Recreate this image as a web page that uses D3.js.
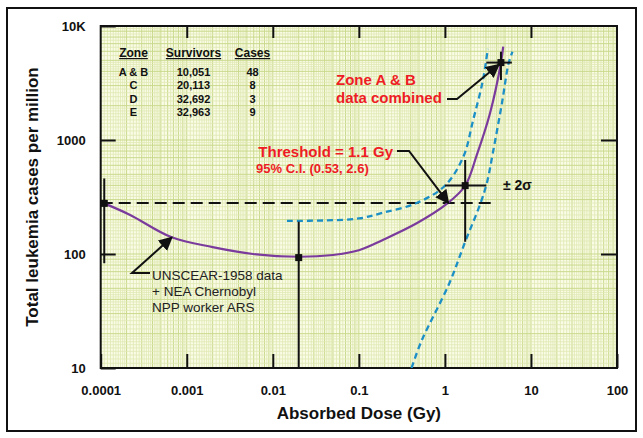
<!DOCTYPE html>
<html><head><meta charset="utf-8">
<script src="https://cdn.jsdelivr.net/npm/d3@7"></script>
<style>body{margin:0;background:#fff}svg{display:block;font-family:"Liberation Sans",Arial,sans-serif}</style>
</head><body><svg id="c" width="643" height="438"></svg>
<script>
// ---- data ----
const xTickValues = [0.0001, 0.001, 0.01, 0.1, 1, 10, 100];
const xTickLabels = ["0.0001", "0.001", "0.01", "0.1", "1", "10", "100"];
const yTickValues = [10, 100, 1000, 10000];
const yTickLabels = ["10", "100", "1000", "10K"];

const zones = ["A & B", "C", "D", "E"];
const survivors = ["10,051", "20,113", "32,692", "32,963"];
const cases = ["48", "8", "3", "9"];

// measured points: dose (Gy), leukemia cases per million
const pointDose = [4.48, 1.72, 0.02, 0.00011];
const pointRate = [4776, 398, 93, 278];
const errYLow = [3360, 128, 10, 83];
const errYHigh = [5950, 668, 192, 460];
const errXLow = [3.03, 1.0, null, null];
const errXHigh = [6.0, 3.03, null, null];

// fitted curve
const fitDose = [0.00011, 0.00022, 0.00067, 0.002, 0.0059, 0.02, 0.05, 0.1, 0.19, 0.47, 1.05, 1.72, 2.35, 3.35, 4.48, 4.76];
const fitRate = [278, 220, 140, 115, 100, 94.6, 98, 108, 133, 186, 275, 397, 740, 1727, 4764, 6600];

// +/- 2 sigma bands
const upperDose = [0.0146, 0.04, 0.1, 0.19, 0.47, 1.0, 1.64, 2.13, 2.77, 3.15];
const upperRate = [195, 197, 205, 230, 280, 397, 714, 1496, 3360, 6300];
const lowerDose = [0.41, 0.53, 1.13, 1.72, 2.6, 3.1, 3.6, 4.6, 5.5, 6.1];
const lowerRate = [10, 17, 55.7, 128, 280, 431, 764, 2100, 4710, 5950];

// threshold reference line
const thresholdRate = 280;
const thresholdDoseRange = [0.0001, 4.0];

// ---- drawing ----
const svg = d3.select("#c");
const L = 100.7, R = 617, T = 26, B = 368;
const x = d3.scaleLog().domain([1e-4, 100]).range([L, R]);
const y = d3.scaleLog().domain([10, 1e4]).range([B, T]);

svg.append("rect").attr("x", 7).attr("y", 8).attr("width", 629).attr("height", 423)
  .attr("fill", "#fff").attr("stroke", "#111").attr("stroke-width", 2);

svg.append("rect").attr("x", L).attr("y", T).attr("width", R - L).attr("height", B - T).attr("fill", "#fafce6");

svg.append("defs").append("clipPath").attr("id", "clip")
  .append("rect").attr("x", L).attr("y", T).attr("width", R - L).attr("height", B - T);

function mantissas() {
  const m = [];
  for (let i = 10; i < 20; i++) m.push(i / 10);
  for (let i = 20; i < 50; i += 2) m.push(i / 10);
  for (let i = 50; i < 100; i += 5) m.push(i / 10);
  return m;
}
const ms = mantissas();
const grid = svg.append("g");
for (let e = -4; e < 2; e++) {
  ms.forEach(m => {
    const v = m * Math.pow(10, e);
    const major = Math.abs(m - Math.round(m)) < 1e-9;
    grid.append("line").attr("x1", x(v)).attr("x2", x(v)).attr("y1", T).attr("y2", B)
      .attr("stroke", major ? "#c9d98c" : "#dfe8b4").attr("stroke-width", major ? 1 : 0.8);
  });
}
for (let e = 1; e < 4; e++) {
  ms.forEach(m => {
    const v = m * Math.pow(10, e);
    const major = Math.abs(m - Math.round(m)) < 1e-9;
    grid.append("line").attr("y1", y(v)).attr("y2", y(v)).attr("x1", L).attr("x2", R)
      .attr("stroke", major ? "#c9d98c" : "#dfe8b4").attr("stroke-width", major ? 1 : 0.8);
  });
}

const fmtX = d => xTickLabels[xTickValues.indexOf(d)];
const fmtY = d => yTickLabels[yTickValues.indexOf(d)];
function styleAxis(g) {
  g.select(".domain").remove();
  g.selectAll(".tick line").attr("stroke", "#111").attr("stroke-width", 2);
  g.selectAll("text").attr("font-size", 13).attr("font-weight", "bold").attr("fill", "#111")
    .attr("font-family", "Liberation Sans, Arial, sans-serif");
}
svg.append("g").attr("transform", `translate(0,${B})`)
  .call(d3.axisBottom(x).tickValues(xTickValues).tickFormat(fmtX).tickSizeInner(-14).tickSizeOuter(0).tickPadding(18))
  .call(styleAxis);
svg.append("g").attr("transform", `translate(0,${T})`)
  .call(d3.axisTop(x).tickValues(xTickValues.slice(1, -1)).tickFormat("").tickSizeInner(-12).tickSizeOuter(0))
  .call(styleAxis);
svg.append("g").attr("transform", `translate(${L},0)`)
  .call(d3.axisLeft(y).tickValues(yTickValues).tickFormat(fmtY).tickSizeInner(-15).tickSizeOuter(0).tickPadding(15))
  .call(styleAxis);
svg.append("g").attr("transform", `translate(${R},0)`)
  .call(d3.axisRight(y).tickValues(yTickValues.slice(1, -1)).tickFormat("").tickSizeInner(-16).tickSizeOuter(0))
  .call(styleAxis);

svg.append("rect").attr("x", L).attr("y", T).attr("width", R - L).attr("height", B - T)
  .attr("fill", "none").attr("stroke", "#111").attr("stroke-width", 2);

svg.append("text").attr("x", (L + R) / 2).attr("y", 419).attr("text-anchor", "middle")
  .attr("font-size", 17).attr("font-weight", "bold").attr("fill", "#111").text("Absorbed Dose (Gy)");
svg.append("text").attr("transform", `translate(38,${(T + B) / 2}) rotate(-90)`).attr("text-anchor", "middle")
  .attr("font-size", 17).attr("font-weight", "bold").attr("fill", "#111").text("Total leukemia cases per million");

const plot = svg.append("g").attr("clip-path", "url(#clip)");
const line = d3.line().x(d => x(d[0])).y(d => y(d[1])).curve(d3.curveCatmullRom.alpha(0.5));

plot.append("line").attr("x1", x(thresholdDoseRange[0])).attr("x2", x(thresholdDoseRange[1]))
  .attr("y1", y(thresholdRate)).attr("y2", y(thresholdRate))
  .attr("stroke", "#111").attr("stroke-width", 2).attr("stroke-dasharray", "12,6");

[[upperDose, upperRate], [lowerDose, lowerRate]].forEach(([ds, rs]) => {
  plot.append("path").attr("d", line(ds.map((d, i) => [d, rs[i]])))
    .attr("fill", "none").attr("stroke", "#1b8fc6").attr("stroke-width", 2.3).attr("stroke-dasharray", "6,4");
});

plot.append("path").attr("d", line(fitDose.map((d, i) => [d, fitRate[i]])))
  .attr("fill", "none").attr("stroke", "#7a3b9c").attr("stroke-width", 2.2);

const eg = svg.append("g").attr("stroke", "#111").attr("stroke-width", 2);
pointDose.forEach((d, i) => {
  eg.append("line").attr("x1", x(d)).attr("x2", x(d)).attr("y1", y(errYLow[i])).attr("y2", y(errYHigh[i]));
  if (errXLow[i] != null)
    eg.append("line").attr("y1", y(pointRate[i])).attr("y2", y(pointRate[i])).attr("x1", x(errXLow[i])).attr("x2", x(errXHigh[i]));
  svg.append("rect").attr("x", x(d) - 3.5).attr("y", y(pointRate[i]) - 3.5).attr("width", 7).attr("height", 7).attr("fill", "#111");
});

svg.select("defs").append("marker").attr("id", "ah").attr("viewBox", "0 0 10 10").attr("refX", 9).attr("refY", 5)
  .attr("markerWidth", 7).attr("markerHeight", 7).attr("orient", "auto")
  .append("path").attr("d", "M0,0 L10,5 L0,10 z").attr("fill", "#111");

const tg = svg.append("g").attr("fill", "#111");
const colX = [133.5, 193.5, 252.5];
["Zone", "Survivors", "Cases"].forEach((h, j) => {
  tg.append("text").attr("x", colX[j]).attr("y", 57).attr("text-anchor", "middle").attr("font-size", 12)
    .attr("font-weight", "bold").attr("text-decoration", "underline").text(h);
});
zones.forEach((z, i) => {
  const yy = 75.5 + i * 13.5;
  [z, survivors[i], cases[i]].forEach((t, j) => {
    tg.append("text").attr("x", colX[j]).attr("y", yy).attr("text-anchor", "middle").attr("font-size", 11)
      .attr("font-weight", "bold").text(t);
  });
});

const red = "#ee1c24";
svg.append("text").attr("x", 336).attr("y", 85).attr("font-size", 15).attr("font-weight", "bold").attr("fill", red).text("Zone A & B");
svg.append("text").attr("x", 336).attr("y", 103).attr("font-size", 15).attr("font-weight", "bold").attr("fill", red).text("data combined");
svg.append("path").attr("d", `M447,99 L457,99 L${x(pointDose[0]) - 2},${y(pointRate[0]) + 2}`)
  .attr("fill", "none").attr("stroke", "#111").attr("stroke-width", 2).attr("marker-end", "url(#ah)");

svg.append("text").attr("x", 393).attr("y", 157).attr("text-anchor", "end").attr("font-size", 15).attr("font-weight", "bold").attr("fill", red).text("Threshold = 1.1 Gy");
svg.append("text").attr("x", 256).attr("y", 173).attr("font-size", 13).attr("font-weight", "bold").attr("fill", red).text("95% C.I. (0.53, 2.6)");
svg.append("path").attr("d", `M397,151 L409,151 L${x(1.1)},${y(thresholdRate)}`)
  .attr("fill", "none").attr("stroke", "#111").attr("stroke-width", 2).attr("marker-end", "url(#ah)");

svg.append("text").attr("x", 503).attr("y", 190).attr("font-size", 14).attr("font-weight", "bold").attr("fill", "#111").text("± 2σ");

const ug = svg.append("g").attr("font-size", 13.5).attr("fill", "#222");
["UNSCEAR-1958 data", "+ NEA Chernobyl", "NPP worker ARS"].forEach((t, i) => {
  ug.append("text").attr("x", 152).attr("y", 280 + i * 16).text(t);
});
svg.append("path").attr("d", `M150,273 L132,273 L${x(0.00067)},${y(140)}`)
  .attr("fill", "none").attr("stroke", "#111").attr("stroke-width", 2).attr("marker-end", "url(#ah)");
</script></body></html>
